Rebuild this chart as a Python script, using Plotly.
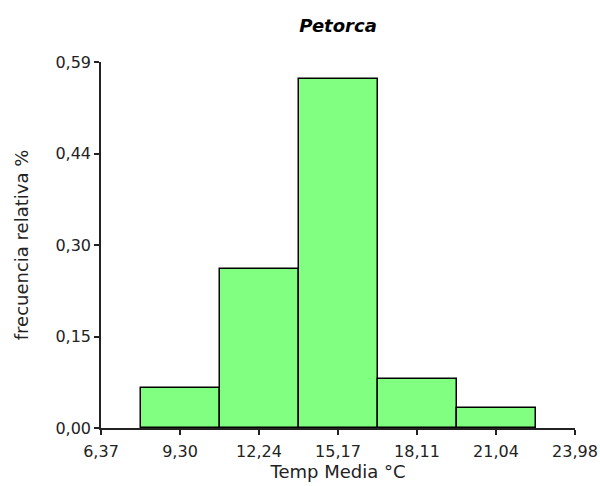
import plotly.graph_objects as go

# Data
bin_centers = [9.305, 12.24, 15.175, 18.11, 21.045]
bin_width = 2.935
rel_freq = [0.064, 0.257, 0.563, 0.079, 0.032]

x_tickvals = [6.37, 9.305, 12.24, 15.175, 18.11, 21.045, 23.98]
x_ticktext = ["6,37", "9,30", "12,24", "15,17", "18,11", "21,04", "23,98"]
y_tickvals = [0.0, 0.1475, 0.295, 0.4425, 0.59]
y_ticktext = ["0,00", "0,15", "0,30", "0,44", "0,59"]

title_text = "Petorca"
x_title = "Temp Media °C"
y_title = "frecuencia relativa %"

FONT = "DejaVu Sans"
TXT = "#222222"

fig = go.Figure()
fig.add_trace(go.Bar(
    x=bin_centers,
    y=rel_freq,
    width=[bin_width] * len(bin_centers),
    marker=dict(color="#80FF80", line=dict(color="black", width=1.5)),
    hoverinfo="x+y",
))

fig.update_layout(
    width=600, height=486,
    margin=dict(l=101, r=25, t=62, b=58, autoexpand=False),
    paper_bgcolor="white", plot_bgcolor="white",
    showlegend=False,
    bargap=0,
    title=dict(text=title_text, x=(101 + 575) / 2 / 600, xanchor="center",
               y=1 - 32 / 486, yanchor="bottom",
               font=dict(family=FONT, size=18, color="black", weight="bold", style="italic")),
    font=dict(family=FONT, size=16, color=TXT),
)
fig.update_xaxes(
    range=[x_tickvals[0], x_tickvals[-1]],
    tickmode="array", tickvals=x_tickvals, ticktext=x_ticktext,
    ticks="outside", ticklen=5, tickwidth=1.5, tickcolor="#222",
    showline=True, linecolor="#222", linewidth=1.5,
    showgrid=False, zeroline=False, automargin=False,
    ticklabelstandoff=3,
    tickfont=dict(family=FONT, size=16, color=TXT),
    title=dict(text=x_title, font=dict(family=FONT, size=18, color=TXT), standoff=5),
)
fig.update_yaxes(
    range=[y_tickvals[0], y_tickvals[-1]],
    tickmode="array", tickvals=y_tickvals, ticktext=y_ticktext,
    ticks="outside", ticklen=5, tickwidth=1.5, tickcolor="#222",
    showline=True, linecolor="#222", linewidth=1.5,
    showgrid=False, zeroline=False, automargin=False,
    tickfont=dict(family=FONT, size=16, color=TXT),
    title=dict(text=y_title, font=dict(family=FONT, size=18, color=TXT), standoff=22),
)

fig.write_html("out.html")
